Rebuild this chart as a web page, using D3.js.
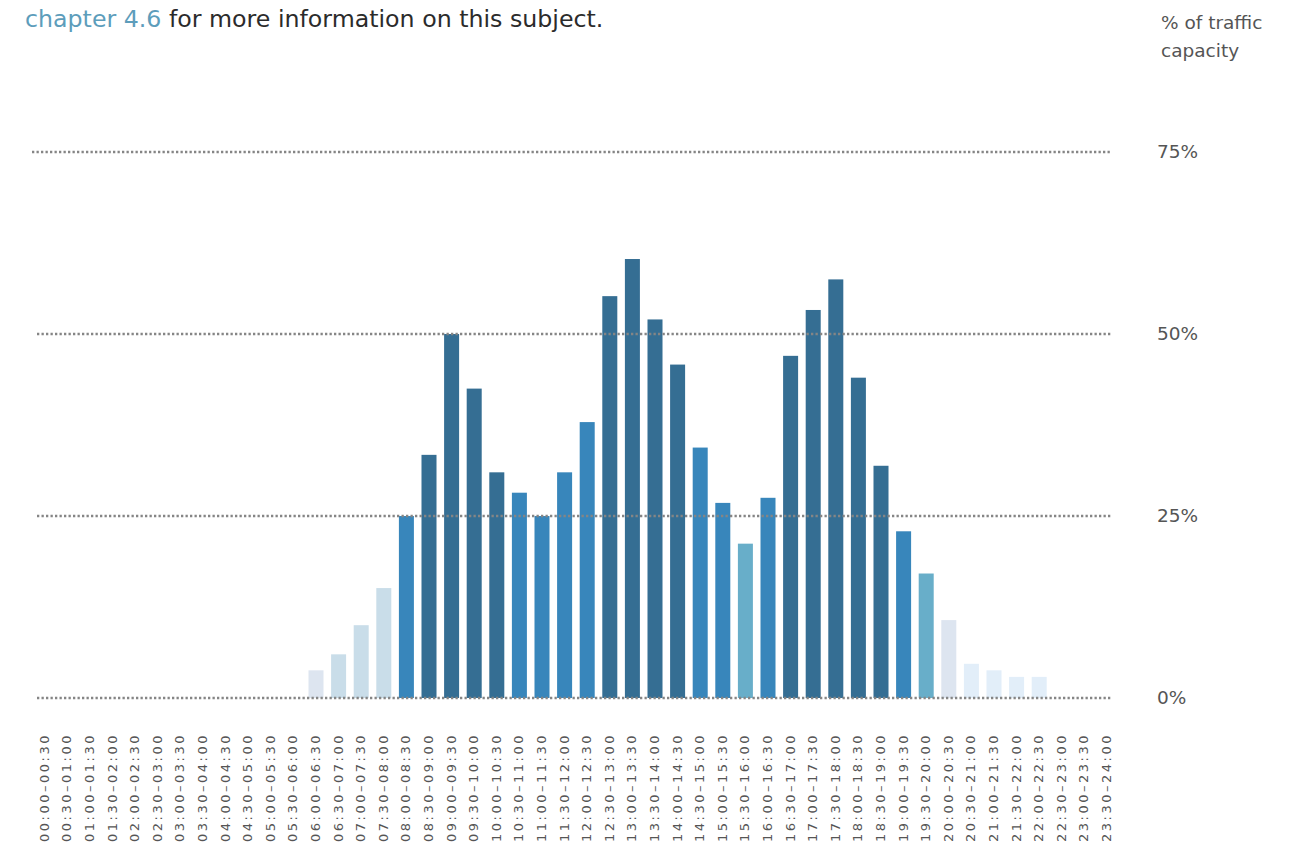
<!DOCTYPE html>
<html>
<head>
<meta charset="utf-8">
<script src="https://cdn.jsdelivr.net/npm/d3@7/dist/d3.min.js"></script>
<style>
  html, body { margin: 0; padding: 0; background: #fff; }
  svg { display: block; }
</style>
</head>
<body>
<svg id="chart" width="1307" height="846"></svg>
<script>
// ---- data ----
const slots = [
  "00:00–00:30","00:30–01:00","01:00–01:30","01:30–02:00","02:00–02:30","02:30–03:00",
  "03:00–03:30","03:30–04:00","04:00–04:30","04:30–05:00","05:00–05:30","05:30–06:00",
  "06:00–06:30","06:30–07:00","07:00–07:30","07:30–08:00","08:00–08:30","08:30–09:00",
  "09:00–09:30","09:30–10:00","10:00–10:30","10:30–11:00","11:00–11:30","11:30–12:00",
  "12:00–12:30","12:30–13:00","13:00–13:30","13:30–14:00","14:00–14:30","14:30–15:00",
  "15:00–15:30","15:30–16:00","16:00–16:30","16:30–17:00","17:00–17:30","17:30–18:00",
  "18:00–18:30","18:30–19:00","19:00–19:30","19:30–20:00","20:00–20:30","20:30–21:00",
  "21:00–21:30","21:30–22:00","22:00–22:30","22:30–23:00","23:00–23:30","23:30–24:00"
];
const values = [
  0,0,0,0,0,0,
  0,0,0,0,0,0,
  3.8,6.0,10.0,15.1,25.0,33.4,
  50.0,42.5,31.0,28.2,25.0,31.0,
  37.9,55.2,60.3,52.0,45.8,34.4,
  26.8,21.2,27.5,47.0,53.3,57.5,
  44.0,31.9,22.9,17.1,10.7,4.7,
  3.8,2.9,2.9,0,0,0
];
// congestion level per slot (0 = lightest ... 5 = darkest)
const levels = [
  0,0,0,0,0,0,
  0,0,0,0,0,0,
  1,2,2,2,4,5,
  5,5,5,4,4,4,
  4,5,5,5,5,4,
  4,3,4,5,5,5,
  5,5,4,3,1,0,
  0,0,0,0,0,0
];
const yTicks = [0, 25, 50, 75];
const levelColors = ["#e2eef9", "#dde5f0", "#c9dde9", "#68aec9", "#3886bb", "#356e93"];

// ---- drawing ----
const svg = d3.select("#chart");
const font = "'DejaVu Sans', 'Open Sans', sans-serif";

const x = d3.scaleBand().domain(slots).range([33.5, 1118.3]).paddingInner(0.336).paddingOuter(0.168);
const y = d3.scaleLinear().domain([0, 75]).range([698, 152]);
const color = d3.scaleOrdinal().domain(d3.range(levelColors.length)).range(levelColors);

// header text
const head = svg.append("text")
  .attr("x", 25).attr("y", 27)
  .attr("font-family", font).attr("font-size", 23.7);
head.append("tspan").attr("fill", "#5d9dbb").text("chapter 4.6");
head.append("tspan").attr("fill", "#2b2b2b").text(" for more information on this subject.");

// axis title
const title = svg.append("text")
  .attr("font-family", font).attr("font-size", 18.5).attr("fill", "#555");
title.append("tspan").attr("x", 1161).attr("y", 29).text("% of traffic");
title.append("tspan").attr("x", 1161).attr("y", 57).text("capacity");

// bars
svg.append("g").selectAll("rect")
  .data(values.map((v, i) => ({ slot: slots[i], v, lvl: levels[i] })))
  .join("rect")
  .attr("x", d => x(d.slot))
  .attr("width", x.bandwidth())
  .attr("y", d => y(d.v))
  .attr("height", d => y(0) - y(d.v))
  .attr("fill", d => color(d.lvl));

// y tick labels
const yAxis = d3.axisRight(y).tickValues(yTicks).tickSize(0).tickFormat(d => d + "%");
const gy = svg.append("g").attr("transform", "translate(1157,0)").call(yAxis);
gy.select(".domain").remove();
gy.selectAll("text")
  .attr("x", 0).attr("dy", "0.3em")
  .attr("font-family", font).attr("font-size", 18.5).attr("fill", "#555");

// dotted grid lines (on top of bars)
svg.append("g").selectAll("line")
  .data(yTicks)
  .join("line")
  .attr("x1", d => d === 75 ? 32 : 37)
  .attr("x2", 1111)
  .attr("y1", d => y(d))
  .attr("y2", d => y(d))
  .attr("stroke", "#858585")
  .attr("stroke-width", 2.4)
  .attr("stroke-dasharray", "2.3 2.2");

// x labels (rotated)
const xAxis = d3.axisBottom(x).tickSize(0);
const gx = svg.append("g").attr("transform", "translate(0,733)").call(xAxis);
gx.select(".domain").remove();
gx.selectAll("text")
  .attr("transform", "rotate(-90)")
  .attr("text-anchor", "end")
  .attr("x", 0).attr("y", 0).attr("dy", "0.3em")
  .attr("font-family", font).attr("font-size", 13)
  .attr("letter-spacing", 2.5)
  .attr("fill", "#555");
</script>
</body>
</html>
